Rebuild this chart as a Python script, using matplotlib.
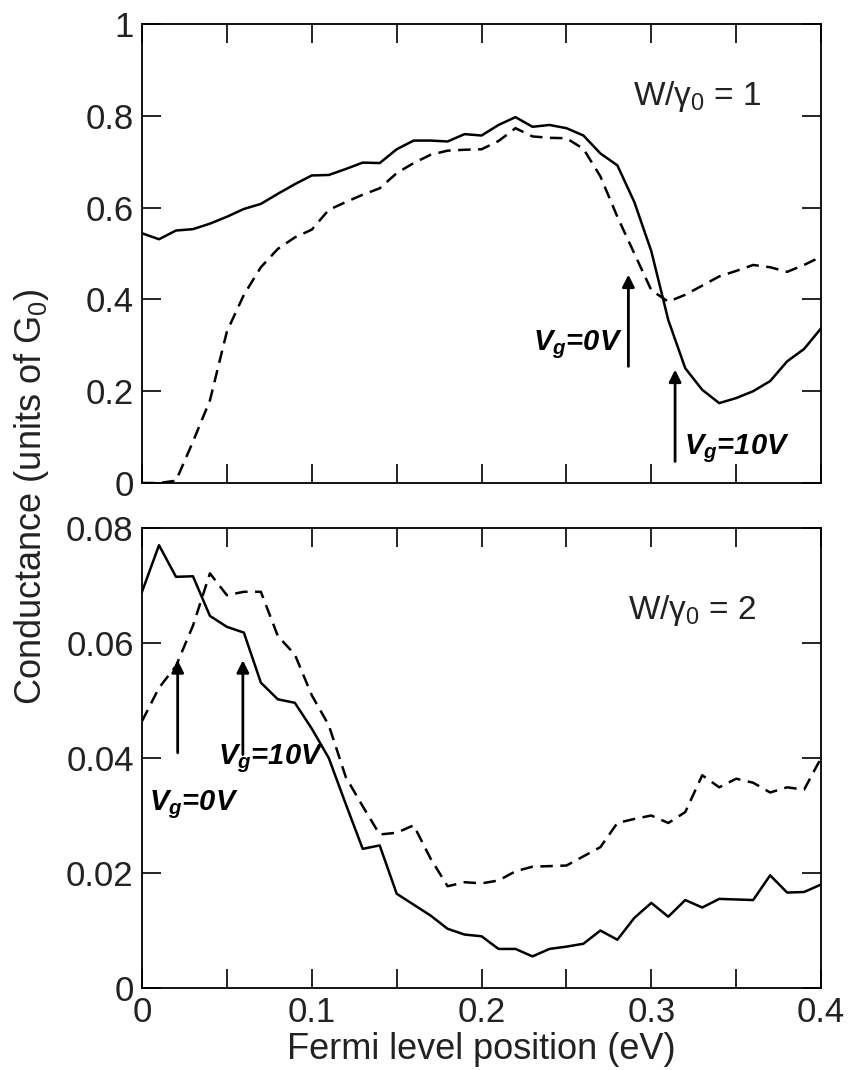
import numpy as np
import matplotlib
matplotlib.use("Agg")
import matplotlib.pyplot as plt

plt.rcParams['font.family'] = ['Liberation Sans', 'DejaVu Sans']
plt.rcParams['mathtext.fontset'] = 'custom'
plt.rcParams['mathtext.rm'] = 'Liberation Sans'
plt.rcParams['mathtext.it'] = 'Liberation Sans:italic'
plt.rcParams['mathtext.bf'] = 'Liberation Sans:bold'
plt.rcParams['mathtext.bfit'] = 'Liberation Sans:bold:italic'

# Fermi level positions (eV), one point every 0.01 eV
energy = [round(0.01 * i, 2) for i in range(41)]

# W/gamma0 = 1
g1_10V = [0.544, 0.531, 0.550, 0.553, 0.565, 0.580, 0.597, 0.608, 0.630, 0.651,
          0.670, 0.671, 0.684, 0.698, 0.697, 0.727, 0.746, 0.746, 0.744, 0.760,
          0.757, 0.780, 0.797, 0.776, 0.780, 0.773, 0.757, 0.718, 0.692, 0.612,
          0.505, 0.355, 0.250, 0.203, 0.174, 0.185, 0.200, 0.222, 0.265, 0.292,
          0.337]
g1_0V = [0.0, 0.0, 0.005, 0.09, 0.18, 0.33, 0.41, 0.47, 0.51, 0.535,
         0.552, 0.595, 0.612, 0.628, 0.642, 0.675, 0.697, 0.715, 0.724, 0.726,
         0.727, 0.745, 0.773, 0.755, 0.752, 0.751, 0.728, 0.668, 0.580, 0.500,
         0.420, 0.395, 0.410, 0.430, 0.450, 0.462, 0.475, 0.470, 0.460, 0.475,
         0.493]

# W/gamma0 = 2
g2_10V = [0.0689, 0.0770, 0.0715, 0.0716, 0.0647, 0.0628, 0.0618, 0.0531, 0.0502, 0.0496,
          0.0451, 0.0400, 0.0320, 0.0242, 0.0248, 0.0164, 0.0145, 0.0126, 0.0103, 0.0093,
          0.0090, 0.0068, 0.0068, 0.0055, 0.0068, 0.0072, 0.0077, 0.0100, 0.0084, 0.0122,
          0.0148, 0.0124, 0.0153, 0.0140, 0.0155, 0.0154, 0.0153, 0.0196, 0.0166, 0.0167,
          0.0180]
g2_0V = [0.0464, 0.0522, 0.0560, 0.0630, 0.0721, 0.0683, 0.0689, 0.0689, 0.0612, 0.0580,
         0.0509, 0.0457, 0.0367, 0.0316, 0.0267, 0.0270, 0.0283, 0.0225, 0.0177, 0.0184,
         0.0182, 0.0187, 0.0203, 0.0211, 0.0212, 0.0213, 0.0229, 0.0245, 0.0287, 0.0294,
         0.0300, 0.0287, 0.0306, 0.0370, 0.0349, 0.0364, 0.0357, 0.0340, 0.0349, 0.0345,
         0.0400]

xticks = [0, 0.05, 0.1, 0.15, 0.2, 0.25, 0.3, 0.35, 0.4]
xticklabels = ['0', '', '0.1', '', '0.2', '', '0.3', '', '0.4']
yticks_top = [0, 0.2, 0.4, 0.6, 0.8, 1.0]
yticklabels_top = ['0', '0.2', '0.4', '0.6', '0.8', '1']
yticks_bot = [0, 0.02, 0.04, 0.06, 0.08]
yticklabels_bot = ['0', '0.02', '0.04', '0.06', '0.08']

fig = plt.figure(figsize=(8.52, 10.70), dpi=100)
ax1 = fig.add_axes([0.1667, 0.5486, 0.797, 0.429])
ax2 = fig.add_axes([0.1667, 0.0766, 0.797, 0.430])

lw = 1.8
dash = (0, (5, 3))


def style_axes(ax, yticks, yticklabels, ymax):
    ax.set_xlim(0, 0.4)
    ax.set_ylim(0, ymax)
    ax.set_xticks(xticks)
    ax.set_yticks(yticks)
    ax.set_yticklabels(yticklabels)
    ax.tick_params(direction='in', length=14, width=1.2, top=True, right=True,
                   labelsize=25, pad=6, labelcolor='#222222')
    for sp in ax.spines.values():
        sp.set_linewidth(1.3)


def arrow(ax, x, y0, y1):
    ax.annotate('', xy=(x, y1), xytext=(x, y0),
                arrowprops=dict(arrowstyle='-|>', lw=2.0, color='black',
                                mutation_scale=18, shrinkA=0, shrinkB=0))


# top panel
ax1.plot(energy, g1_10V, color='black', lw=lw)
ax1.plot(energy, g1_0V, color='black', lw=lw, linestyle=dash)
style_axes(ax1, yticks_top, yticklabels_top, 1.0)
ax1.set_xticklabels([])
ax1.text(0.289, 0.842, r'W/$\mathregular{\gamma_0}$ = 1', fontsize=24,
         va='center', color='#222222')
arrow(ax1, 0.2865, 0.254, 0.454)
arrow(ax1, 0.314, 0.047, 0.247)
ax1.text(0.283, 0.29, r'$\mathbfit{V_g}$=0V', fontsize=21, fontweight='bold',
         style='italic', ha='right', va='baseline')
ax1.text(0.319, 0.062, r'$\mathbfit{V_g}$=10V', fontsize=21, fontweight='bold',
         style='italic', ha='left', va='baseline')

# bottom panel
ax2.plot(energy, g2_10V, color='black', lw=lw)
ax2.plot(energy, g2_0V, color='black', lw=lw, linestyle=dash)
style_axes(ax2, yticks_bot, yticklabels_bot, 0.08)
ax2.set_xticklabels(xticklabels)
ax2.text(0.286, 0.0657, r'W/$\mathregular{\gamma_0}$ = 2', fontsize=24,
         va='center', color='#222222')
arrow(ax2, 0.021, 0.0409, 0.057)
arrow(ax2, 0.0594, 0.0406, 0.057)
ax2.text(0.045, 0.039, r'$\mathbfit{V_g}$=10V', fontsize=21, fontweight='bold',
         style='italic', ha='left', va='baseline')
ax2.text(0.004, 0.0309, r'$\mathbfit{V_g}$=0V', fontsize=21, fontweight='bold',
         style='italic', ha='left', va='baseline')
ax2.set_xlabel('Fermi level position (eV)', fontsize=26, labelpad=2, color='#222222')

fig.text(0.037, 0.536, r'Conductance (units of G$_\mathregular{0}$)', fontsize=26,
         rotation=90, ha='center', va='center', color='#222222')

fig.savefig('out.png', dpi=100)
